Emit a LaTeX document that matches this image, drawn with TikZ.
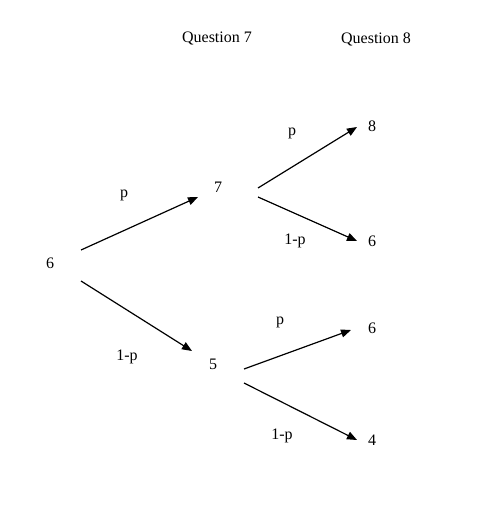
\documentclass[tikz,border=0pt]{standalone}
\usepackage{fontspec}
\setmainfont{Liberation Serif}
\usetikzlibrary{arrows.meta}

\begin{document}
\begin{tikzpicture}[x=0.75pt,y=-0.75pt,font=\fontsize{12}{14}\selectfont,
  branch/.style={-{Triangle[length=7.5pt,width=6pt]},line width=0.9pt}]
\useasboundingbox (0,0) rectangle (483,516);
\node (q7) at (217,39) {Question 7};
\node (q8) at (376,39) {Question 8};
\node (n6) at (50,263) {6};
\node (n7) at (218,187) {7};
\node (n5) at (213,364) {5};
\node (n8) at (372,126) {8};
\node (n6b) at (372,241) {6};
\node (n6c) at (372,328) {6};
\node (n4) at (372,440) {4};
\node (l1) at (124,195) {p};
\node (l2) at (127,357) {1-p};
\node (l3) at (292,133) {p};
\node (l4) at (295,241) {1-p};
\node (l5) at (280,322) {p};
\node (l6) at (282,436) {1-p};
\draw[branch] ([shift={(31,-13)}]n6.center) -- ([shift={(-20,10)}]n7.center);
\draw[branch] ([shift={(31,18)}]n6.center) -- ([shift={(-21,-13)}]n5.center);
\draw[branch] ([shift={(40,1)}]n7.center) -- ([shift={(-15,1)}]n8.center);
\draw[branch] ([shift={(40,10)}]n7.center) -- ([shift={(-15,0)}]n6b.center);
\draw[branch] ([shift={(31,5)}]n5.center) -- ([shift={(-21,2)}]n6c.center);
\draw[branch] ([shift={(31,19)}]n5.center) -- ([shift={(-15,0)}]n4.center);
\end{tikzpicture}
\end{document}
